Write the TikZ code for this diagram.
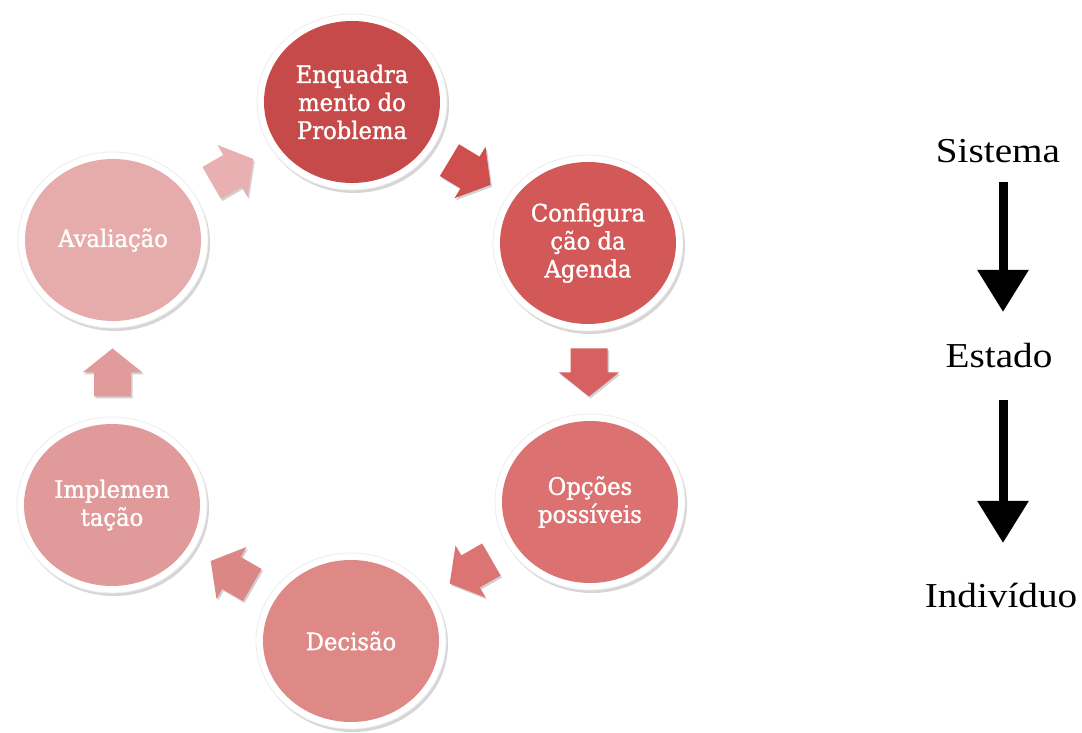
\documentclass[tikz,border=0pt]{standalone}
\usepackage{fontspec}
\usetikzlibrary{shapes.geometric,arrows.meta,shadows,calc}
\newfontfamily\circfont[FakeStretch=0.945,FakeBold=1.3]{DejaVu Serif}
\newfontfamily\rightfont[FakeStretch=1.12]{Liberation Serif}
\definecolor{c1}{RGB}{199,74,74}
\definecolor{c2}{RGB}{211,88,88}
\definecolor{c3}{RGB}{219,113,113}
\definecolor{c4}{RGB}{222,137,133}
\definecolor{c5}{RGB}{224,154,154}
\definecolor{c6}{RGB}{230,172,172}
\definecolor{a1}{RGB}{207,78,78}
\definecolor{a2}{RGB}{215,96,96}
\definecolor{a3}{RGB}{220,116,116}
\definecolor{a4}{RGB}{221,134,134}
\definecolor{a5}{RGB}{225,155,155}
\definecolor{a6}{RGB}{232,176,176}
\tikzset{
  stage/.style={ellipse, minimum width=190pt, minimum height=176pt, inner sep=0pt,
    fill=white, draw=black!7, line width=0.8pt, text=white, align=center,
    path picture={\fill[#1] (path picture bounding box.center) ellipse [x radius=88pt, y radius=81pt];},
    font=\circfont\fontsize{24}{28}\selectfont,
    drop shadow={shadow xshift=2pt, shadow yshift=-3pt, opacity=0.16, fill=black}},
  pics/blockarr/.style={code={
    \fill[#1, drop shadow={shadow xshift=1.5pt, shadow yshift=-2pt, opacity=0.18, fill=black}]
      (-24,-18.5) -- (0,-18.5) -- (0,-30) -- (24,0) -- (0,30) -- (0,18.5) -- (-24,18.5) -- cycle;}},
  level/.style={font=\rightfont\fontsize{35}{40}\selectfont, inner sep=0pt, anchor=base},
  levelarrow/.style={line width=9pt, -{Triangle[width=49pt,length=42pt]}}
}
\begin{document}
\begin{tikzpicture}[x=1pt,y=1pt]
\useasboundingbox (0,0) rectangle (1082,733);
\fill[white] (0,0) rectangle (1082,733);
% stages
\node[stage=c1] (enq) at (352,631) {Enquadra\\mento do\\Problema};
\node[stage=c2] (cfg) at (588,490) {Configura\\ção da\\Agenda};
\node[stage=c3] (opc) at (590,231) {Opções\\possíveis};
\node[stage=c4] (dec) at (351,92) {Decisão};
\node[stage=c5] (imp) at (112,228) {Implemen\\tação};
\node[stage=c6] (ava) at (113,493) {Avaliação};
% block arrows
\pic[rotate=-31] at ($(enq)!0.5!(cfg)$) {blockarr=a1};
\pic[rotate=-90] at ($(cfg)!0.5!(opc)$) {blockarr=a2};
\pic[rotate=210] at ($(opc)!0.5!(dec)$) {blockarr=a3};
\pic[rotate=150] at ($(dec)!0.5!(imp)$) {blockarr=a4};
\pic[rotate=90] at ($(imp)!0.5!(ava)$) {blockarr=a5};
\pic[rotate=30] at ($(ava)!0.5!(enq)$) {blockarr=a6};
% right side
\node[level] (sis) at (998,570) {Sistema};
\node[level] (est) at (999,365) {Estado};
\node[level] (ind) at (1001,125) {Indivíduo};
\draw[levelarrow] ($(sis.base)+(5,-19)$) -- ($(est.base)+(4,56)$);
\draw[levelarrow] ($(est.base)+(4,-32)$) -- ($(ind.base)+(2,65)$);
\end{tikzpicture}
\end{document}
